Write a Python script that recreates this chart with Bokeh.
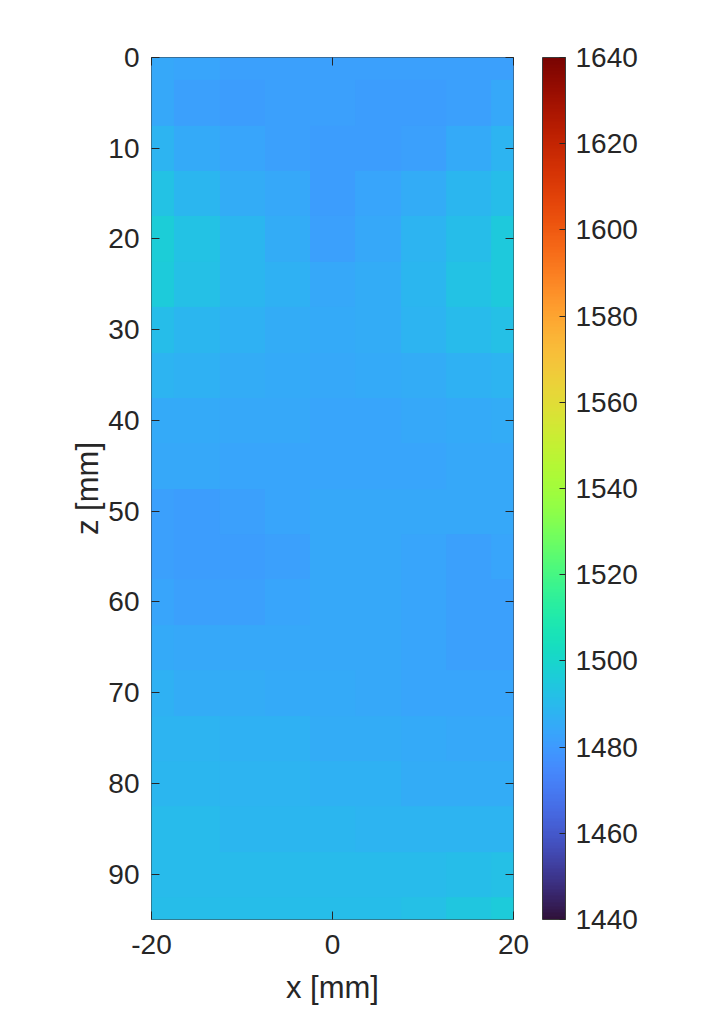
import numpy as np
from bokeh.plotting import figure
from bokeh.models import (LinearColorMapper, ColorBar, FixedTicker, LinearAxis, Range1d)
from bokeh.palettes import Turbo256
from bokeh.embed import file_html
from bokeh.resources import INLINE

# lateral positions [mm] and depths [mm] of the grid of sound-speed values
x_mm = [-20, -15, -10, -5, 0, 5, 10, 15, 20]
z_mm = [0, 5, 10, 15, 20, 25, 30, 35, 40, 45, 50, 55, 60, 65, 70, 75, 80, 85, 90, 95]

# sound speed [m/s], one list per depth row (x from -20 to 20)
c_z00 = [1484, 1483, 1482, 1482, 1482, 1482, 1482, 1482, 1482]
c_z05 = [1484, 1482, 1481, 1482, 1482, 1481, 1481, 1482, 1484]
c_z10 = [1488, 1485, 1483, 1482, 1481, 1481, 1482, 1485, 1488]
c_z15 = [1493, 1489, 1486, 1484, 1481, 1483, 1486, 1489, 1491]
c_z20 = [1497, 1493, 1489, 1486, 1482, 1484, 1488, 1491, 1495]
c_z25 = [1496, 1492, 1489, 1487, 1484, 1486, 1489, 1493, 1495]
c_z30 = [1491, 1489, 1487, 1486, 1485, 1486, 1488, 1490, 1492]
c_z35 = [1488, 1487, 1486, 1485, 1484, 1485, 1486, 1487, 1488]
c_z40 = [1485, 1485, 1484, 1484, 1483, 1483, 1484, 1485, 1486]
c_z45 = [1484, 1484, 1483, 1483, 1483, 1483, 1483, 1484, 1484]
c_z50 = [1482, 1481, 1482, 1483, 1484, 1484, 1484, 1484, 1484]
c_z55 = [1482, 1481, 1481, 1482, 1484, 1484, 1483, 1482, 1483]
c_z60 = [1483, 1482, 1482, 1483, 1484, 1484, 1483, 1482, 1482]
c_z65 = [1485, 1484, 1484, 1484, 1484, 1484, 1483, 1482, 1482]
c_z70 = [1487, 1486, 1486, 1485, 1485, 1484, 1483, 1483, 1483]
c_z75 = [1488, 1488, 1487, 1487, 1486, 1486, 1485, 1484, 1484]
c_z80 = [1489, 1489, 1488, 1488, 1487, 1487, 1486, 1486, 1486]
c_z85 = [1490, 1490, 1489, 1489, 1489, 1488, 1488, 1488, 1488]
c_z90 = [1490, 1490, 1490, 1490, 1490, 1490, 1490, 1491, 1492]
c_z95 = [1491, 1491, 1491, 1491, 1491, 1491, 1492, 1494, 1496]

rows = [c_z00, c_z05, c_z10, c_z15, c_z20, c_z25, c_z30, c_z35, c_z40, c_z45,
        c_z50, c_z55, c_z60, c_z65, c_z70, c_z75, c_z80, c_z85, c_z90, c_z95]

x_ticks = [-20, 0, 20]
x_tick_labels = {-20: "-20", 0: "0", 20: "20"}
z_ticks = [0, 10, 20, 30, 40, 50, 60, 70, 80, 90]
cbar_ticks = [1440, 1460, 1480, 1500, 1520, 1540, 1560, 1580, 1600, 1620, 1640]
c_low, c_high = 1440, 1640

FONT = "Liberation Sans"
TXT = "#262626"
FS = "28px"
LFS = "31px"

speed = np.array(rows, dtype=float)
dx = x_mm[1] - x_mm[0]
dz = z_mm[1] - z_mm[0]

mapper = LinearColorMapper(palette=Turbo256, low=c_low, high=c_high)

FW, FH = 362, 862
p = figure(frame_width=FW, frame_height=FH,
           x_range=Range1d(-20, 20), y_range=Range1d(95, 0),
           output_backend="svg", toolbar_location=None,
           min_border_left=151, min_border_top=57, min_border_bottom=95,
           min_border_right=150)

p.image(image=[speed], x=x_mm[0] - dx / 2, y=z_mm[0] - dz / 2,
        dw=(x_mm[-1] - x_mm[0]) + dx, dh=(z_mm[-1] - z_mm[0]) + dz,
        color_mapper=mapper)

p.grid.visible = False
p.outline_line_color = "#3a3a3a"
p.outline_line_width = 1
p.background_fill_color = "white"
p.border_fill_color = "white"

def style_axis(ax, ticks, show_labels=True):
    ax.ticker = FixedTicker(ticks=ticks)
    ax.major_tick_in = 8
    ax.major_tick_out = 0
    ax.minor_tick_in = 0
    ax.minor_tick_out = 0
    ax.major_tick_line_color = TXT
    ax.major_tick_line_width = 1
    ax.axis_line_color = None
    ax.major_label_text_font = FONT
    ax.major_label_text_font_size = FS
    ax.major_label_text_color = TXT
    ax.axis_label_text_font = FONT
    ax.axis_label_text_font_size = LFS
    ax.axis_label_text_color = TXT
    ax.axis_label_text_font_style = "normal"
    if not show_labels:
        ax.major_label_overrides = {t: "" for t in ticks}
        ax.major_label_text_font_size = "1px"

xa = p.xaxis[0]
style_axis(xa, x_ticks)
xa.major_label_overrides = x_tick_labels
xa.axis_label = "x [mm]"
xa.major_label_standoff = 15
xa.axis_label_standoff = 13

ya = p.yaxis[0]
style_axis(ya, z_ticks)
ya.axis_label = "z [mm]"
ya.major_label_standoff = 12
ya.axis_label_standoff = 0

top_ax = LinearAxis()
style_axis(top_ax, x_ticks, show_labels=False)
p.add_layout(top_ax, "above")

right_ax = LinearAxis()
style_axis(right_ax, z_ticks, show_labels=False)
p.add_layout(right_ax, "right")

cb = ColorBar(color_mapper=mapper, ticker=FixedTicker(ticks=cbar_ticks),
              width=23, height=FH, margin=0, padding=0,
              location=(FW + 29, 0),
              major_tick_in=6, major_tick_out=0,
              major_tick_line_color=TXT, minor_tick_line_color=None,
              bar_line_color="#3a3a3a", bar_line_width=1,
              border_line_color=None, background_fill_color=None,
              label_standoff=10,
              major_label_text_font=FONT, major_label_text_font_size=FS,
              major_label_text_color=TXT)
p.add_layout(cb, "center")

open("out.html", "w").write(file_html(p, INLINE))
